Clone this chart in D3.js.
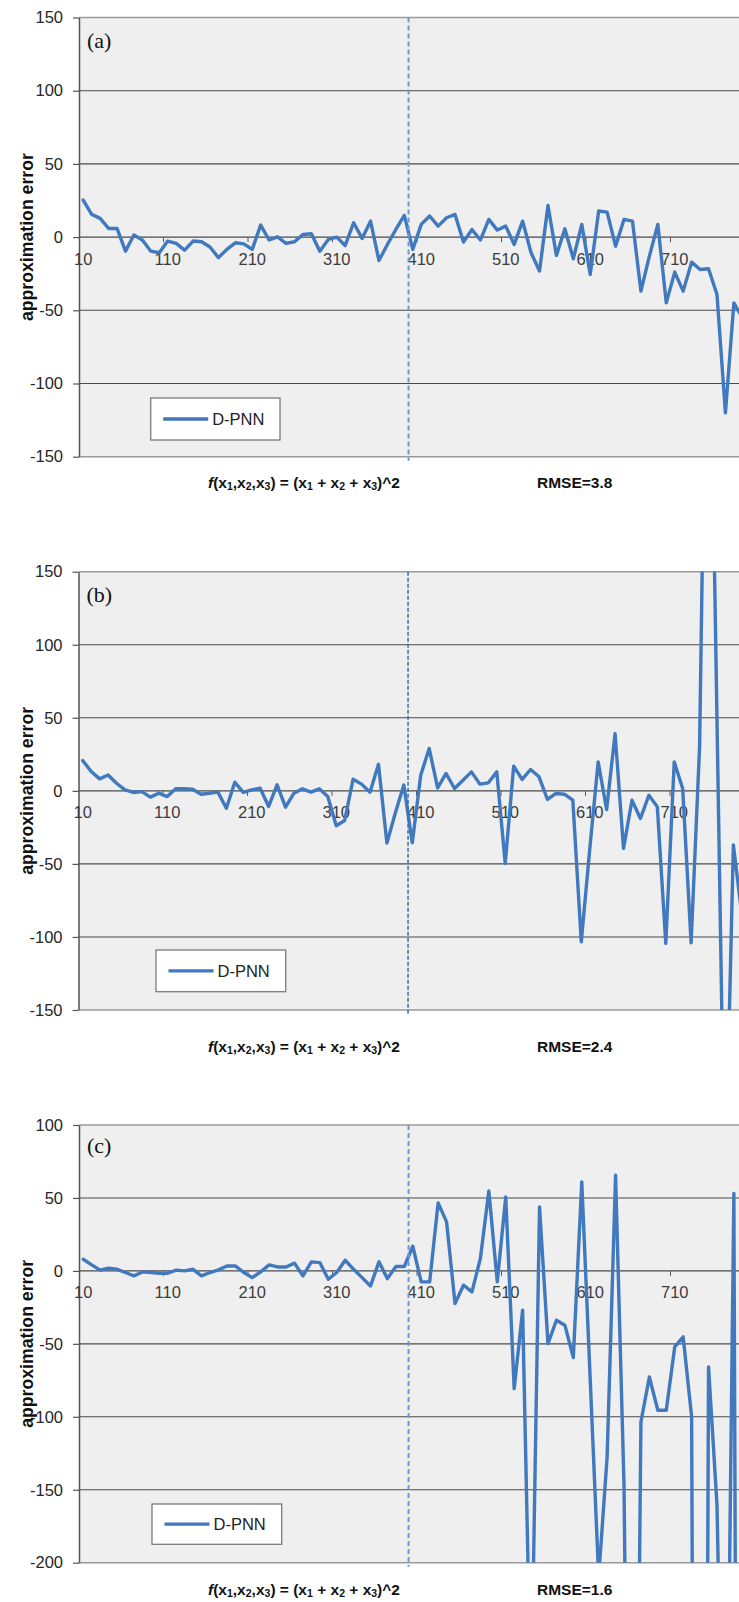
<!DOCTYPE html>
<html><head><meta charset="utf-8">
<script src="https://cdn.jsdelivr.net/npm/d3@7/dist/d3.min.js"></script>
<style>body{margin:0;background:#fff;} svg{display:block;}</style>
</head><body><svg id="chart" width="739" height="1602"></svg>
<script>
const categories = [10,20,30,40,50,60,70,80,90,100,110,120,130,140,150,160,170,180,190,200,
  210,220,230,240,250,260,270,280,290,300,310,320,330,340,350,360,370,380,390,400,
  410,420,430,440,450,460,470,480,490,500,510,520,530,540,550,560,570,580,590,600,
  610,620,630,640,650,660,670,680,690,700,710,720,730,740,750,760,770,780,790];

const errorsA = [25.3,15.5,12.8,5.9,5.9,-9.6,1.4,-2,-9.6,-10.7,
  -2.7,-4.3,-8.9,-2.7,-3.2,-6.8,-14,-8.4,-3.9,-4.6,
  -8.4,8.2,-2,0.2,-4.3,-3.2,1.8,2.3,-9.6,-1.6,
  0,-5.7,9.8,-0.9,10.9,-16,-5,5.2,14.8,-8.4,
  8.7,14.4,7.5,13.2,15.5,-3.4,5.2,-2,12.1,4.8,
  7.5,-5,10.9,-10.7,-23.2,21.6,-12.5,5.7,-14.8,8.7,
  -25.5,17.8,17.1,-6.2,12.1,10.9,-36.9,-13,8.7,-44.9,
  -23.9,-36.9,-17.1,-22.1,-21.6,-39.2,-120,-44.9,-55];

const errorsB = [20.7,13.2,8.2,10.9,5.2,0.7,-1.1,-0.5,-4.3,-1.6,
  -3.9,1.4,1.4,1.1,-2.3,-1.6,-0.9,-11.9,5.9,-1.1,
  0.7,1.8,-10.7,4.1,-11.2,-1.6,1.4,-0.9,1.4,-3.9,
  -23.9,-20.3,8,4.6,-0.9,18.2,-35.8,-15,4,-35.6,
  10.7,29,2,11.9,1.6,7.3,13,4.6,5.5,13,
  -49.7,16.9,7.8,14.6,9.6,-5.9,-1.8,-2.3,-6.4,-103.3,
  -40,19.8,-12.8,39.2,-39.4,-6.4,-18.9,-3,-10.9,-104.4,
  19.8,1.6,-104,30,420,70,-280,-37,-85];

const errorsC = [8,4.1,0.5,1.8,1.1,-1.1,-3.4,-0.7,-1.1,-1.6,
  -1.6,0.5,0,1.1,-3.4,-1.1,0.7,3.4,3.4,-1.1,
  -4.6,-0.7,4.1,2.7,2.7,5.3,-3.4,6.2,5.7,-5.7,
  -1.1,7.3,1.1,-4.6,-10.3,6.2,-5.3,3,3,16.9,
  -7.5,-7.5,46.6,33.6,-22.4,-9.8,-14.4,8.5,54.8,-7.5,
  50.7,-80.7,-27,-300,43.9,-49.8,-33.8,-37.2,-59.4,61,
  -74.7,-210,-127.5,65.6,-147,-700,-103.5,-72.7,-95.5,-95.5,
  -52.1,-45.2,-100,-1500,-65.8,-160,-450,53,-1500];

const yTicksAB = [150,100,50,0,-50,-100,-150];
const yTicksC = [100,50,0,-50,-100,-150,-200];
const xTickLabels = [10,110,210,310,410,510,610,710];
const panelLabels = ["(a)","(b)","(c)"];
const rmseLabels = ["RMSE=3.8","RMSE=2.4","RMSE=1.6"];
const seriesName = "D-PNN";
const yTitle = "approximation error";
const dividerCategory = 400;

const W = 739;
const step = 8.45;
const lineColor = "#4179be";

const panels = [
  {values: errorsA, ticks: yTicksAB, label: panelLabels[0], rmse: rmseLabels[0],
   top: 17.5, bottom: 456.7, left: 79, labelY: 48, captionY: 488,
   legend: {x: 150.7, y: 398, w: 129.3, h: 42},
   dash: {color: "#6c9ad4", width: 2, pattern: "5,3"}},
  {values: errorsB, ticks: yTicksAB, label: panelLabels[1], rmse: rmseLabels[1],
   top: 571.7, bottom: 1010, left: 78.5, labelY: 601.7, captionY: 1052,
   legend: {x: 156, y: 950, w: 129.7, h: 41.7},
   dash: {color: "#2f6fb7", width: 1.5, pattern: "4,2"}},
  {values: errorsC, ticks: yTicksC, label: panelLabels[2], rmse: rmseLabels[2],
   top: 1125, bottom: 1562.7, left: 79, labelY: 1153, captionY: 1595,
   legend: {x: 152, y: 1504, w: 129.7, h: 40.3},
   dash: {color: "#6c9ad4", width: 2, pattern: "5,3"}}
];

const svg = d3.select("#chart");

panels.forEach((p, pi) => {
  const g = svg.append("g");
  const x = d3.scaleBand().domain(categories)
    .range([p.left, p.left + categories.length * step]).padding(0);
  const bw = x.bandwidth();
  const y = d3.scaleLinear().domain([p.ticks[p.ticks.length - 1], p.ticks[0]])
    .range([p.bottom, p.top]);

  const clipId = "clip" + pi;
  svg.append("clipPath").attr("id", clipId).append("rect")
    .attr("x", p.left).attr("y", p.top).attr("width", W - p.left).attr("height", p.bottom - p.top);

  // plot background
  g.append("rect").attr("x", p.left).attr("y", p.top)
    .attr("width", W - p.left).attr("height", p.bottom - p.top)
    .attr("fill", "#efefef");

  // gridlines
  g.selectAll(".grid").data(p.ticks).enter().append("line")
    .attr("x1", p.left).attr("x2", W)
    .attr("y1", d => y(d)).attr("y2", d => y(d))
    .attr("stroke", (d, i) => (i === 0 || i === p.ticks.length - 1) ? "#9a9a9a" : "#4a4a4a")
    .attr("stroke-width", (d, i) => (i === 0 || i === p.ticks.length - 1) ? 1.5 : 1.1);

  // y axis
  const yAxis = d3.axisLeft(y).tickValues(p.ticks).tickFormat(d => String(d))
    .tickSize(6).tickSizeOuter(0).tickPadding(10);
  const ya = g.append("g").attr("transform", `translate(${p.left},0)`).call(yAxis);
  ya.select(".domain").attr("stroke", "#555").attr("stroke-width", 1.5);
  ya.selectAll(".tick line").attr("stroke", "#555").attr("stroke-width", 1.2);
  ya.selectAll(".tick text").attr("font-family", "'Liberation Sans', Arial, sans-serif")
    .attr("font-size", 16.5).attr("fill", "#262626");

  // x axis tick marks at category boundaries every 10 categories
  const y0 = y(0);
  const tickCats = xTickLabels.slice(1);
  g.selectAll(".xt").data(tickCats).enter().append("line")
    .attr("x1", d => x(d)).attr("x2", d => x(d))
    .attr("y1", y0).attr("y2", y0 + 5)
    .attr("stroke", "#555").attr("stroke-width", 1);
  g.selectAll(".xl").data(xTickLabels).enter().append("text")
    .attr("x", d => x(d) + bw / 2).attr("y", y0 + 27.5)
    .attr("text-anchor", "middle")
    .attr("font-family", "'Liberation Sans', Arial, sans-serif")
    .attr("font-size", 16.5).attr("fill", "#3c3c3c")
    .text(d => d);

  // data line
  const pts = categories.map((c, i) => ({c: c, v: p.values[i]}));
  const line = d3.line().x(d => x(d.c) + bw / 2).y(d => y(d.v));
  g.append("path").datum(pts)
    .attr("clip-path", `url(#${clipId})`)
    .attr("d", line)
    .attr("fill", "none").attr("stroke", lineColor)
    .attr("stroke-width", 3.4).attr("stroke-linejoin", "round").attr("stroke-linecap", "round");

  // dashed divider
  g.append("line")
    .attr("x1", x(dividerCategory)).attr("x2", x(dividerCategory))
    .attr("y1", p.top).attr("y2", p.bottom + 4)
    .attr("stroke", p.dash.color).attr("stroke-width", p.dash.width)
    .attr("stroke-dasharray", p.dash.pattern);

  // panel label
  g.append("text").attr("x", p.left + 8).attr("y", p.labelY)
    .attr("font-family", "'Liberation Serif', 'Times New Roman', serif")
    .attr("font-size", 22).attr("fill", "#111").text(p.label);

  // legend
  const L = p.legend;
  g.append("rect").attr("x", L.x).attr("y", L.y).attr("width", L.w).attr("height", L.h)
    .attr("fill", "#fff").attr("stroke", "#7a7a7a").attr("stroke-width", 1.3);
  g.append("line").attr("x1", L.x + 12.5).attr("x2", L.x + 57.5)
    .attr("y1", L.y + L.h / 2).attr("y2", L.y + L.h / 2)
    .attr("stroke", lineColor).attr("stroke-width", 3.4);
  g.append("text").attr("x", L.x + 61.5).attr("y", L.y + L.h / 2 + 6)
    .attr("font-family", "'Liberation Sans', Arial, sans-serif")
    .attr("font-size", 16.5).attr("fill", "#222").text(seriesName);

  // y title
  g.append("text")
    .attr("transform", `translate(33,${(p.top + p.bottom) / 2}) rotate(-90)`)
    .attr("text-anchor", "middle")
    .attr("font-family", "'Liberation Sans', Arial, sans-serif")
    .attr("font-weight", "bold").attr("font-size", 17.5)
    .attr("textLength", 168).attr("lengthAdjust", "spacingAndGlyphs")
    .attr("fill", "#111").text(yTitle);

  // caption
  const cap = g.append("text").attr("x", 208).attr("y", p.captionY)
    .attr("font-family", "'Liberation Sans', Arial, sans-serif")
    .attr("font-weight", "bold").attr("font-size", 15.5).attr("fill", "#111");
  const parts = [
    {t: "f", it: true}, {t: "(x"}, {t: "1", sub: true}, {t: ",x"}, {t: "2", sub: true},
    {t: ",x"}, {t: "3", sub: true}, {t: ") = (x"}, {t: "1", sub: true}, {t: " + x"},
    {t: "2", sub: true}, {t: " + x"}, {t: "3", sub: true}, {t: ")^2"}
  ];
  let shifted = false;
  parts.forEach(pt => {
    const ts = cap.append("tspan").text(pt.t);
    if (pt.it) ts.attr("font-style", "italic");
    if (pt.sub) { ts.attr("font-size", 10.5).attr("dy", shifted ? 0 : 1.5); shifted = true; }
    else if (shifted) { ts.attr("dy", -1.5); shifted = false; }
  });
  g.append("text").attr("x", 537).attr("y", p.captionY)
    .attr("font-family", "'Liberation Sans', Arial, sans-serif")
    .attr("font-weight", "bold").attr("font-size", 15.5).attr("fill", "#111")
    .text(p.rmse);
});
</script>
</body></html>
